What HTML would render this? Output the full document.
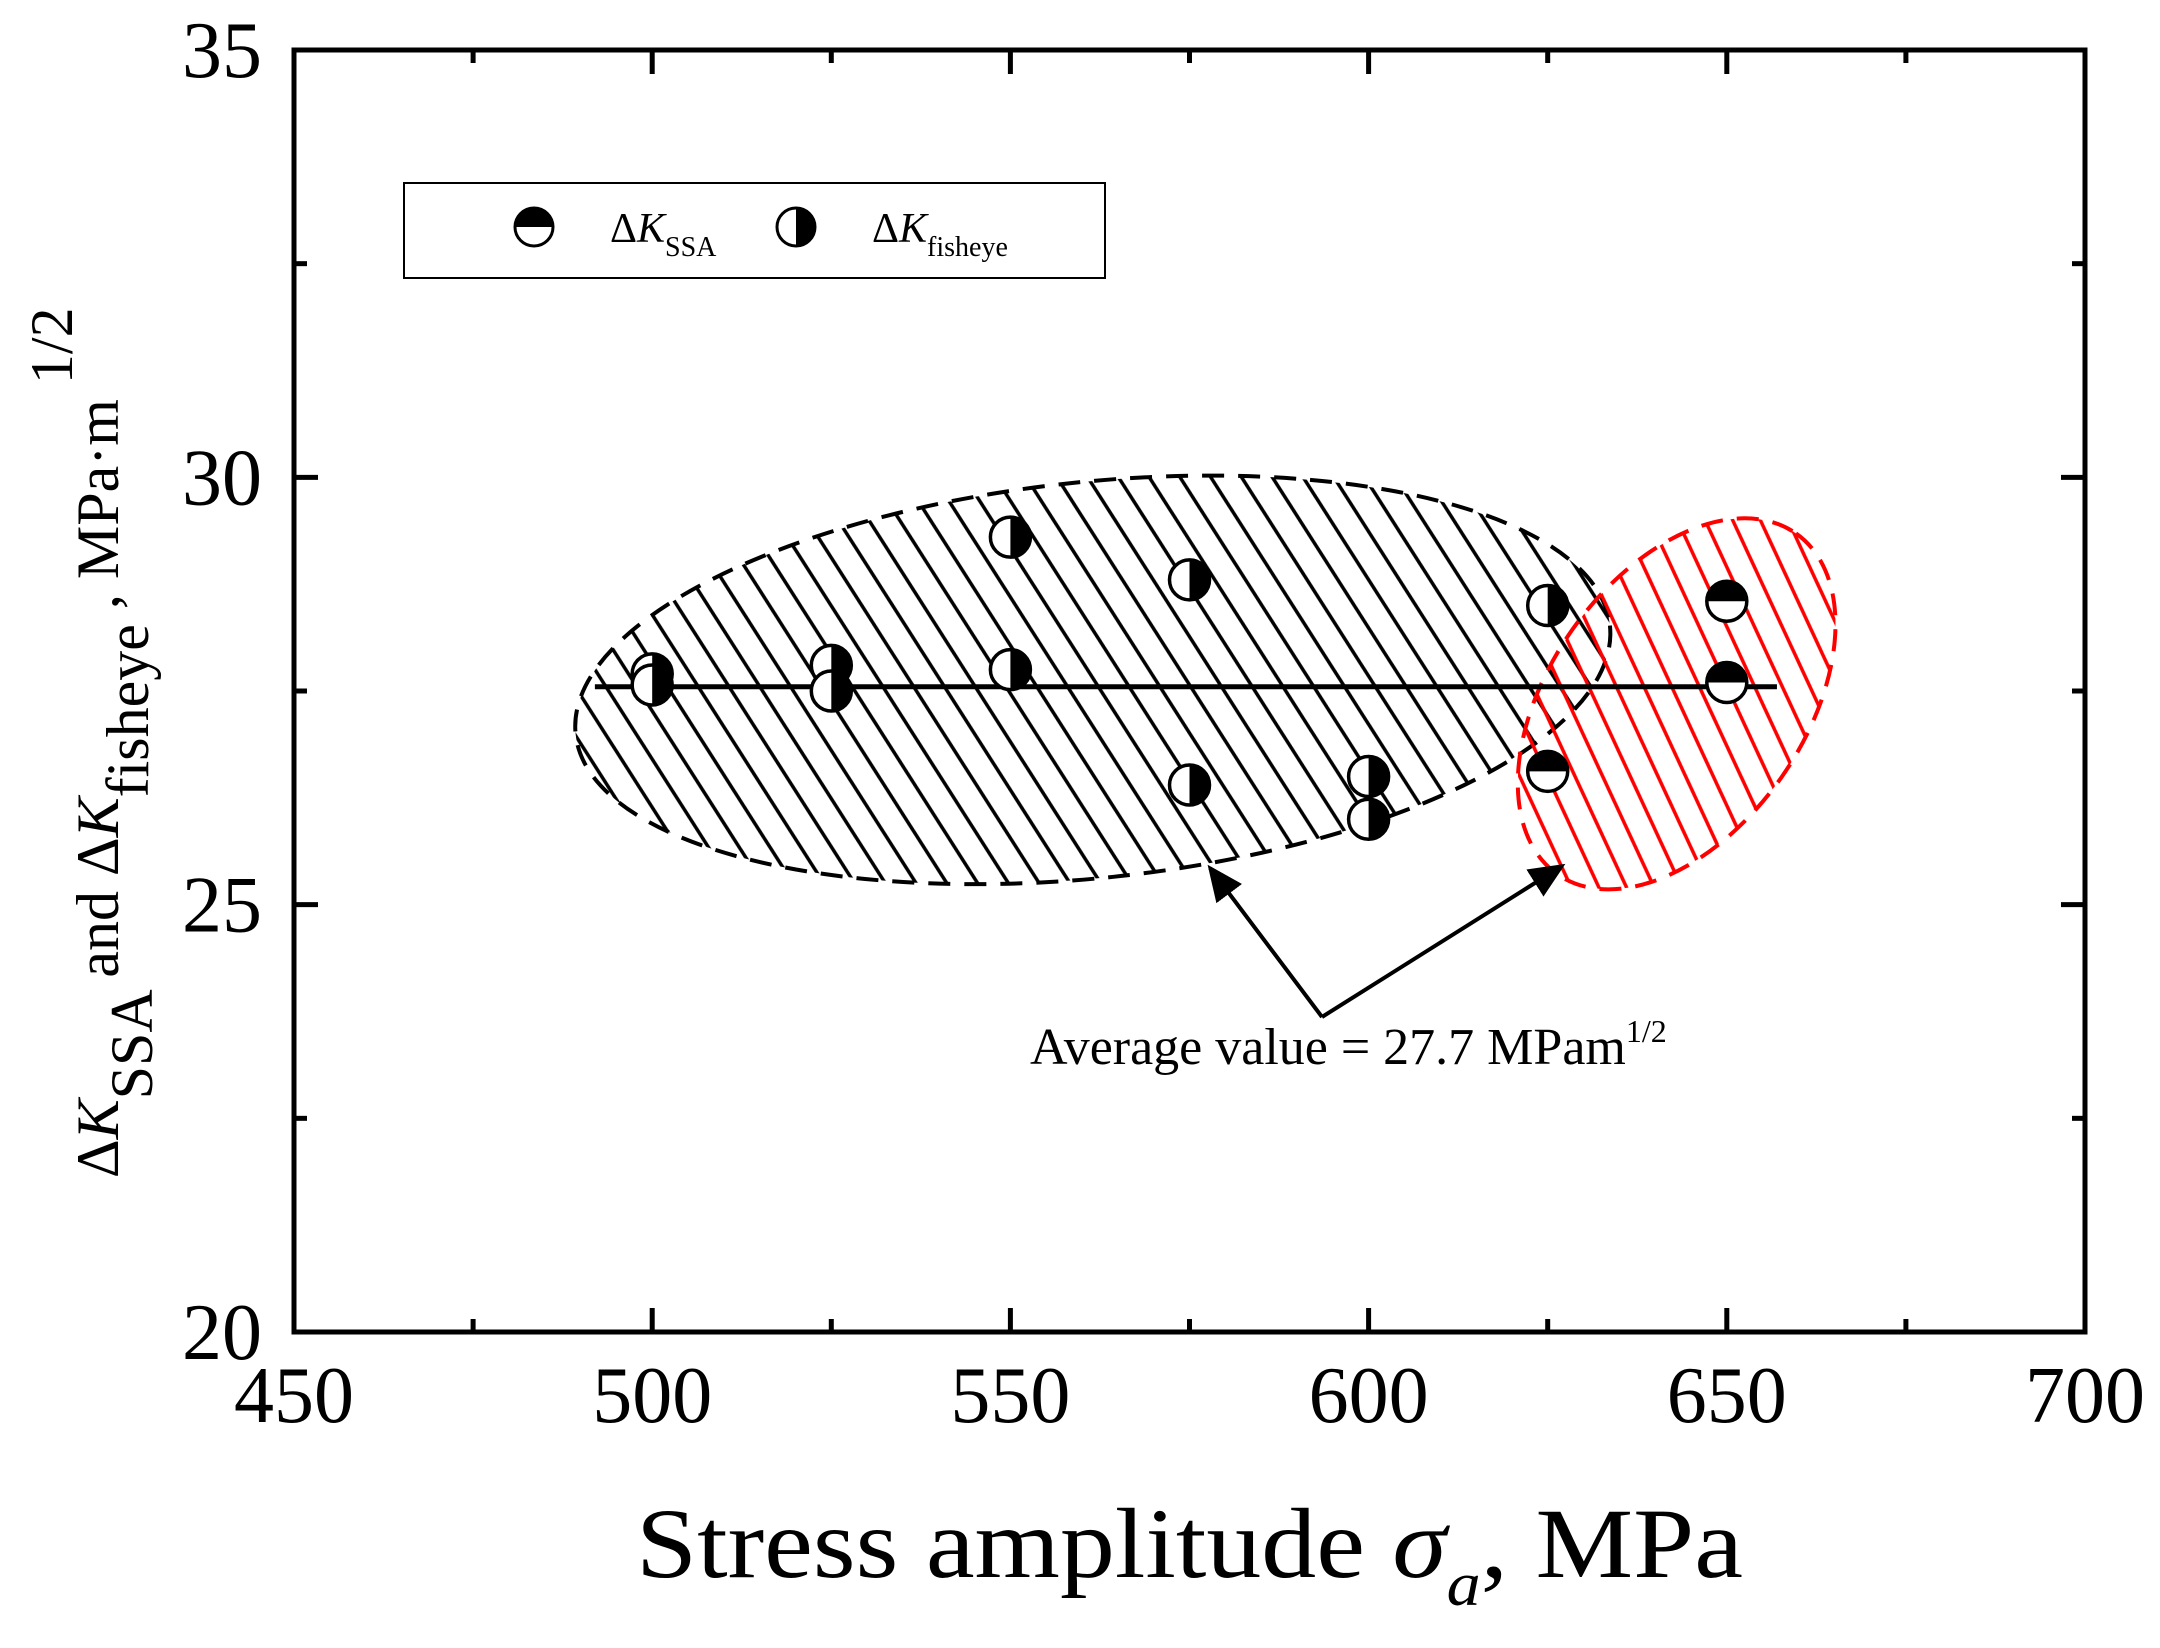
<!DOCTYPE html>
<html><head><meta charset="utf-8"><style>
html,body{margin:0;padding:0;background:#fff}
svg{display:block}
text{font-family:"Liberation Serif",serif;fill:#000}
</style></head><body>
<svg id="chart" width="2160" height="1648" viewBox="0 0 2160 1648" xmlns="http://www.w3.org/2000/svg">
<defs>
<pattern id="hatchBlack" patternUnits="userSpaceOnUse" width="29" height="58">
<path d="M-29,-58 L58,116 M0,0 L29,58 M-29,0 L0,58 M29,0 L58,58 M0,-58 L29,0 M0,58 L29,116" stroke="#000" stroke-width="3.5"/>
</pattern>
<pattern id="hatchRed" patternUnits="userSpaceOnUse" width="29" height="50">
<path d="M0,50 L29,0 M-29,50 L0,0 M29,50 L58,0 M0,100 L29,50 M0,0 L29,-50" stroke="#f00" stroke-width="3.5"/>
</pattern>
<marker id="arrowHead" markerWidth="10" markerHeight="10" refX="8" refY="5" orient="auto" markerUnits="strokeWidth">
<path d="M0,1 L9,5 L0,9 Z" fill="#000"/>
</marker>
</defs>
<g id="regions"></g>
<g id="axes"></g>
<g id="marks"></g>
<g id="legend">
<rect x="404" y="183" width="701" height="95" fill="#fff" stroke="#000" stroke-width="2"/>
<g>
<circle cx="534" cy="227" r="19" fill="#fff" stroke="#000" stroke-width="3"/>
<path d="M515,227 A19,19 0 0 1 553,227 Z" fill="#000"/>
<text x="610" y="242" font-size="42">Δ<tspan font-style="italic">K</tspan><tspan font-size="28" dy="14">SSA</tspan></text>
</g>
<g>
<circle cx="796" cy="227" r="19" fill="#fff" stroke="#000" stroke-width="3"/>
<path d="M796,208 A19,19 0 0 1 796,246 Z" fill="#000"/>
<text x="872" y="242" font-size="42">Δ<tspan font-style="italic">K</tspan><tspan font-size="28" dy="14">fisheye</tspan></text>
</g>
</g>
<g>
<line x1="1322" y1="1017" x2="1210" y2="868" stroke="#000" stroke-width="4" marker-end="url(#arrowHead)"/>
<line x1="1322" y1="1017" x2="1562" y2="866" stroke="#000" stroke-width="4" marker-end="url(#arrowHead)"/>
<text x="1030" y="1064" font-size="52">Average value = 27.7 MPam<tspan font-size="32" dy="-22">1/2</tspan></text>
</g>
<text x="636" y="1577" font-size="100" textLength="1107" lengthAdjust="spacingAndGlyphs">Stress amplitude <tspan font-style="italic">σ</tspan><tspan font-style="italic" font-size="62" dy="28">a</tspan><tspan dy="-28">, MPa</tspan></text>
<text transform="translate(118,1178) rotate(-90)" font-size="60">Δ<tspan font-style="italic">K</tspan><tspan font-size="60" dy="34">SSA</tspan><tspan dy="-34"> and Δ</tspan><tspan font-style="italic">K</tspan><tspan dy="30">fisheye</tspan><tspan dy="-30"> , MPa·m</tspan><tspan font-size="60" dy="-46"> 1/2</tspan></text>
</svg>
<script>
const xTicks = [450, 500, 550, 600, 650, 700];
const yTicks = [20, 25, 30, 35];
const fisheyeX = [500, 500, 525, 525, 550, 550, 575, 575, 600, 600, 625];
const fisheyeY = [27.7, 27.57, 27.8, 27.5, 29.3, 27.75, 28.8, 26.4, 26.5, 26.0, 28.5];
const ssaX = [625, 650, 650];
const ssaY = [26.56, 28.55, 27.6];
const averageX = [492, 657];
const averageY = [27.55, 27.55];
const NS = "http://www.w3.org/2000/svg";
const L = 294, R = 2085, T = 50, B = 1332;
function sx(v){ return L + (v - 450) / 250 * (R - L); }
function sy(v){ return B - (v - 20) / 15 * (B - T); }
function mk(tag, attrs, parent){ const e = document.createElementNS(NS, tag); for (const k in attrs) e.setAttribute(k, attrs[k]); parent.appendChild(e); return e; }

const regions = document.getElementById('regions');
const bcx = sx(561.5), bcy = sy(27.63);
const blackRegion = mk('ellipse', {cx: bcx, cy: bcy, rx: 520, ry: 198, transform: `rotate(-6 ${bcx} ${bcy})`, fill: 'url(#hatchBlack)', stroke: '#000', 'stroke-width': 4, 'stroke-dasharray': '22 14'}, regions);


const rcx = sx(643), rcy = sy(27.35);
const redRegion = mk('ellipse', {cx: rcx, cy: rcy, rx: 208, ry: 128, transform: `rotate(-55 ${rcx} ${rcy})`, fill: 'url(#hatchRed)', stroke: '#f00', 'stroke-width': 4, 'stroke-dasharray': '22 14'}, regions);



const axes = document.getElementById('axes');
const frame = mk('rect', {x: L, y: T, width: R - L, height: B - T, fill: 'none', stroke: '#000', 'stroke-width': 5}, axes);


for (let i = 0; i < xTicks.length; i++) {
  const v = xTicks[i], x = sx(v);
  mk('line', {x1: x, y1: B, x2: x, y2: B - 24, stroke: '#000', 'stroke-width': 5}, axes);
  mk('line', {x1: x, y1: T, x2: x, y2: T + 24, stroke: '#000', 'stroke-width': 5}, axes);
  if (i < xTicks.length - 1) {
    const m = sx(v + 25);
    mk('line', {x1: m, y1: B, x2: m, y2: B - 13, stroke: '#000', 'stroke-width': 5}, axes);
    mk('line', {x1: m, y1: T, x2: m, y2: T + 13, stroke: '#000', 'stroke-width': 5}, axes);
  }
  const t = mk('text', {x: x, y: 1422, 'font-size': 80, 'text-anchor': 'middle'}, axes);
  t.textContent = v;
  
  
}
for (let i = 0; i < yTicks.length; i++) {
  const v = yTicks[i], y = sy(v);
  mk('line', {x1: L, y1: y, x2: L + 24, y2: y, stroke: '#000', 'stroke-width': 5}, axes);
  mk('line', {x1: R, y1: y, x2: R - 24, y2: y, stroke: '#000', 'stroke-width': 5}, axes);
  if (i < yTicks.length - 1) {
    const m = sy(v + 2.5);
    mk('line', {x1: L, y1: m, x2: L + 13, y2: m, stroke: '#000', 'stroke-width': 5}, axes);
    mk('line', {x1: R, y1: m, x2: R - 13, y2: m, stroke: '#000', 'stroke-width': 5}, axes);
  }
  const t = mk('text', {x: 262, y: y + 27, 'font-size': 80, 'text-anchor': 'end'}, axes);
  t.textContent = v;
  
  
}

const marks = document.getElementById('marks');
const avg = mk('line', {x1: sx(averageX[0]), y1: sy(averageY[0]), x2: sx(averageX[1]), y2: sy(averageY[1]), stroke: '#000', 'stroke-width': 5}, marks);


const r = 20;
for (let i = 0; i < fisheyeX.length; i++) {
  const cx = sx(fisheyeX[i]), cy = sy(fisheyeY[i]);
  const g = mk('g', {}, marks);
  
  
  mk('circle', {cx: cx, cy: cy, r: r, fill: '#fff', stroke: '#000', 'stroke-width': 3.5}, g);
  mk('path', {d: `M${cx},${cy - r} A${r},${r} 0 0 1 ${cx},${cy + r} Z`, fill: '#000'}, g);
}
for (let i = 0; i < ssaX.length; i++) {
  const cx = sx(ssaX[i]), cy = sy(ssaY[i]);
  const g = mk('g', {}, marks);
  
  
  mk('circle', {cx: cx, cy: cy, r: r, fill: '#fff', stroke: '#000', 'stroke-width': 3.5}, g);
  mk('path', {d: `M${cx - r},${cy} A${r},${r} 0 0 1 ${cx + r},${cy} Z`, fill: '#000'}, g);
}
</script>
</body></html>
